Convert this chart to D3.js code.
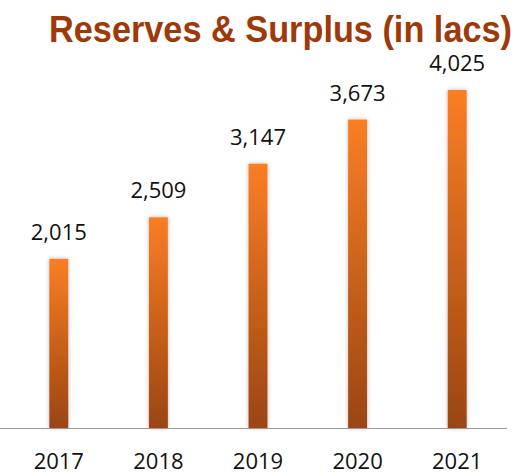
<!DOCTYPE html>
<html><head><meta charset="utf-8">
<script src="https://cdn.jsdelivr.net/npm/d3@7"></script>
<style>body{margin:0;background:#fff}svg{display:block}</style>
</head><body>
<script>
const years = ["2017","2018","2019","2020","2021"];
const values = [2015, 2509, 3147, 3673, 4025];
const valueLabels = ["2,015","2,509","3,147","3,673","4,025"];
const title = "Reserves & Surplus (in lacs)";

const W = 518, H = 474, base = 428;
const svg = d3.select("body").append("svg").attr("width", W).attr("height", H);
const defs = svg.append("defs");
const g = defs.append("linearGradient").attr("id","grad").attr("x1",0).attr("y1",0).attr("x2",0).attr("y2",1);
g.append("stop").attr("offset","0%").attr("stop-color","#FA7E24");
g.append("stop").attr("offset","100%").attr("stop-color","#9A4512");
const f = defs.append("filter").attr("id","sh").attr("x","-50%").attr("y","-10%").attr("width","200%").attr("height","120%");
f.append("feDropShadow").attr("dx",0).attr("dy",0).attr("stdDeviation",2.2).attr("flood-color","#000").attr("flood-opacity",0.28);

const x = d3.scaleBand().domain(years).range([9, 507]).paddingInner(0.81).paddingOuter(0.405);
const y = d3.scaleLinear().domain([0, 4025]).range([base, 90]);

svg.append("text").attr("x", 280.5).attr("y", 42).attr("text-anchor","middle")
  .attr("font-family","Liberation Sans, Arial, sans-serif").attr("font-weight","bold")
  .attr("font-size", 36.5).attr("textLength", 463).attr("lengthAdjust","spacingAndGlyphs")
  .attr("fill","#9E3A0A").text(title);

svg.selectAll("rect.bar").data(values).join("rect").attr("class","bar")
  .attr("x",(d,i)=>x(years[i])).attr("width",x.bandwidth())
  .attr("y",d=>y(d)).attr("height",d=>base-y(d))
  .attr("fill","url(#grad)").attr("filter","url(#sh)");

svg.append("line").attr("x1",0).attr("x2",507).attr("y1",base+0.5).attr("y2",base+0.5)
  .attr("stroke","#9a9a9a").attr("stroke-width",1);

svg.selectAll("text.val").data(values).join("text").attr("class","val")
  .attr("x",(d,i)=>x(years[i])+x.bandwidth()/2).attr("y",d=>y(d)-19)
  .attr("text-anchor","middle").attr("font-family","Open Sans, sans-serif")
  .attr("font-size",22).attr("fill","#111").text((d,i)=>valueLabels[i]);

svg.selectAll("text.yr").data(years).join("text").attr("class","yr")
  .attr("x",d=>x(d)+x.bandwidth()/2).attr("y",469)
  .attr("text-anchor","middle").attr("font-family","Open Sans, sans-serif")
  .attr("font-size",22).attr("fill","#111").text(d=>d);
</script>
</body></html>
